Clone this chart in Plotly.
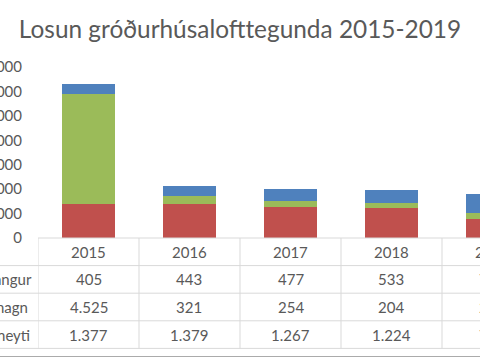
import plotly.graph_objects as go

years = ["2015", "2016", "2017", "2018", "2019"]
urgangur = [405, 443, 477, 533, 765]
rafmagn = [4525, 321, 254, 204, 246]
eldsneyti = [1377, 1379, 1267, 1224, 778]
series_names = ["Úrgangur", "Rafmagn", "Eldsneyti"]
y_ticks = [0, 1000, 2000, 3000, 4000, 5000, 6000, 7000]

RED = "#C0504D"
GREEN = "#9BBB59"
BLUE = "#4F81BD"
TXT = "#595959"
GRIDC = "#D9D9D9"
FONT = "Lato"

W, H = 480, 360
ML, MT, MB = 38, 67, 122
plot_w = W - ML
plot_h = H - MT - MB
cat_w = 101
x_lo = -0.5
x_hi = x_lo + plot_w / cat_w

fig = go.Figure()
for name, vals, col in [("Eldsneyti", eldsneyti, RED), ("Rafmagn", rafmagn, GREEN), ("Úrgangur", urgangur, BLUE)]:
    fig.add_trace(go.Bar(x=years, y=vals, name=name, marker=dict(color=col, line=dict(width=0))))

def fmt(v):
    return f"{v:,}".replace(",", ".")

def cat_paper(i):
    # category index -> paper x through the x-axis range
    return (i - x_lo) / (x_hi - x_lo)

row_h = 27.6
def py(px):
    return -px / plot_h

annotations = []
shapes = []
cell_font = dict(family=FONT, size=15, color=TXT)
for i, yr in enumerate(years):
    annotations.append(dict(x=cat_paper(i), xref="paper", y=py(row_h * 0.5), yref="paper", text=yr,
                            showarrow=False, font=cell_font, xanchor="center", yanchor="middle"))
rows = [urgangur, rafmagn, eldsneyti]
for r, (name, vals) in enumerate(zip(series_names, rows)):
    yc = py(row_h * (r + 1.5))
    for i, v in enumerate(vals):
        annotations.append(dict(x=cat_paper(i), xref="paper", y=yc, yref="paper", text=fmt(v),
                                showarrow=False, font=cell_font, xanchor="center", yanchor="middle"))
    annotations.append(dict(x=-70 / plot_w, xref="paper", y=yc, yref="paper", text=name,
                            showarrow=False, font=cell_font, xanchor="left", yanchor="middle"))

x0_paper = -ML / plot_w
shapes.append(dict(type="line", xref="paper", yref="paper", x0=0, x1=1, y0=0, y1=0,
                   line=dict(color=GRIDC, width=1)))
for r in range(1, 5):
    yl = py(row_h * r)
    shapes.append(dict(type="line", xref="paper", yref="paper", x0=x0_paper, x1=1, y0=yl, y1=yl,
                       line=dict(color=GRIDC, width=1)))
for i in range(len(years)):
    shapes.append(dict(type="line", xref="x", yref="paper", x0=i - 0.5, x1=i - 0.5,
                       y0=0, y1=py(row_h * 4), line=dict(color=GRIDC, width=1)))
yb = py(MB - 3.5)
shapes.append(dict(type="line", xref="paper", yref="paper", x0=x0_paper, x1=1, y0=yb, y1=yb,
                   line=dict(color="#ABABAB", width=1)))

fig.update_layout(
    width=W, height=H,
    margin=dict(l=ML, r=0, t=MT, b=MB, autoexpand=False),
    barmode="stack", bargap=0.485,
    showlegend=False,
    paper_bgcolor="white", plot_bgcolor="white",
    font=dict(family=FONT, color=TXT),
    title=dict(text="Losun gróðurhúsalofttegunda 2015-2019", x=0.5, xanchor="center",
               y=1 - 29 / H, yanchor="middle", font=dict(family=FONT, size=24.4, color=TXT)),
    xaxis=dict(type="category", range=[x_lo, x_hi], showticklabels=False, showgrid=False,
               showline=False, zeroline=False, ticks="", automargin=False),
    yaxis=dict(range=[0, 7000], tickvals=y_ticks, ticktext=[str(v) for v in y_ticks],
               showgrid=False, zeroline=False, showline=False, ticks="", automargin=False,
               ticklabelstandoff=15, tickfont=dict(family=FONT, size=15, color=TXT)),
    annotations=annotations, shapes=shapes,
)
fig.write_html("out.html", config={"displayModeBar": False},
               post_script="document.body.style.margin='0';")
